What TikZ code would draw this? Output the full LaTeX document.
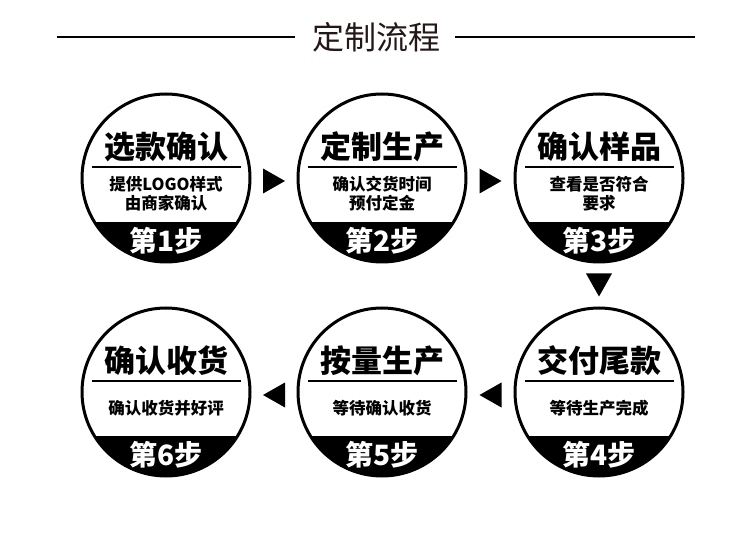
\documentclass[tikz,border=0pt]{standalone}
\usepackage{fontspec}
\newfontfamily\cjk{Noto Sans CJK SC}
\usetikzlibrary{calc}
\definecolor{titlecol}{RGB}{35,24,21}
\tikzset{
  ring/.style={circle, draw=black, line width=3pt, minimum size=168pt, inner sep=0pt, outer sep=0pt},
  head/.style={font=\cjk\bfseries\fontsize{31}{31}\selectfont, inner sep=0pt},
  subtext/.style={font=\cjk\bfseries\fontsize{16.5}{19}\selectfont, inner sep=0pt, align=center},
  stepno/.style={font=\cjk\bfseries\fontsize{28}{28}\selectfont, text=white, inner sep=0pt},
  sepline/.style={line width=2pt},
  marker/.style={fill=black},
  titletext/.style={font=\cjk\fontsize{32}{32}\selectfont, text=titlecol, inner sep=0pt},
  titleline/.style={line width=2.2pt, draw=black},
}
\newcommand\flowstep[6]{%
  \begin{scope}
    \clip (#2,#3) circle[radius=84];
    \fill[black] (#2-90,#3+44) rectangle (#2+90,#3+90);
  \end{scope}
  \node[ring] (#1) at (#2,#3) {};
  \node[head] (#1h) at ($(#1)+(0,-31)$) {#4};
  \coordinate (#1l) at ($(#1)+(-74,-11)$);
  \coordinate (#1r) at ($(#1)+(75,-11)$);
  \draw[sepline] (#1l) -- (#1r);
  \node[subtext] (#1s) at ($(#1)+(0,16)$) {#5};
  \node[stepno] (#1n) at ($(#1)+(0,63)$) {#6};
}
\begin{document}
\begin{tikzpicture}[x=1pt, y=-1pt]
\useasboundingbox (0,0) rectangle (750,553);

% title
\node[titletext] (title) at (376,37.5) {定制流程};
\coordinate (tl0) at (57,37);
\coordinate (tl1) at (295,37);
\coordinate (tr0) at (455,37);
\coordinate (tr1) at (695,37);
\draw[titleline] (tl0) -- (tl1);
\draw[titleline] (tr0) -- (tr1);

% steps
\flowstep{c1}{166}{178}{选款确认}{提供LOGO样式\\由商家确认}{第1步}
\flowstep{c2}{382}{178}{定制生产}{确认交货时间\\预付定金}{第2步}
\flowstep{c3}{599}{178}{确认样品}{查看是否符合\\要求}{第3步}
\flowstep{c4}{599}{392}{交付尾款}{等待生产完成}{第4步}
\flowstep{c5}{382}{392}{按量生产}{等待确认收货}{第5步}
\flowstep{c6}{166}{392}{确认收货}{确认收货并好评}{第6步}

% markers
\coordinate (a12) at ($(c1)!0.5!(c2)+(0,3)$);
\coordinate (a23) at ($(c2)!0.5!(c3)+(0,3)$);
\coordinate (a34) at ($(c3)!0.5!(c4)$);
\coordinate (a45) at ($(c4)!0.5!(c5)+(0,3)$);
\coordinate (a56) at ($(c5)!0.5!(c6)+(0,3)$);
\fill[marker] ($(a12)+(-11,-12.5)$) -- ($(a12)+(11,0)$) -- ($(a12)+(-11,12.5)$) -- cycle;
\fill[marker] ($(a23)+(-11,-12.5)$) -- ($(a23)+(11,0)$) -- ($(a23)+(-11,12.5)$) -- cycle;
\fill[marker] ($(a34)+(-13,-11.5)$) -- ($(a34)+(13,-11.5)$) -- ($(a34)+(0,11.5)$) -- cycle;
\fill[marker] ($(a45)+(11,-12.5)$) -- ($(a45)+(-11,0)$) -- ($(a45)+(11,12.5)$) -- cycle;
\fill[marker] ($(a56)+(11,-12.5)$) -- ($(a56)+(-11,0)$) -- ($(a56)+(11,12.5)$) -- cycle;
\end{tikzpicture}
\end{document}
